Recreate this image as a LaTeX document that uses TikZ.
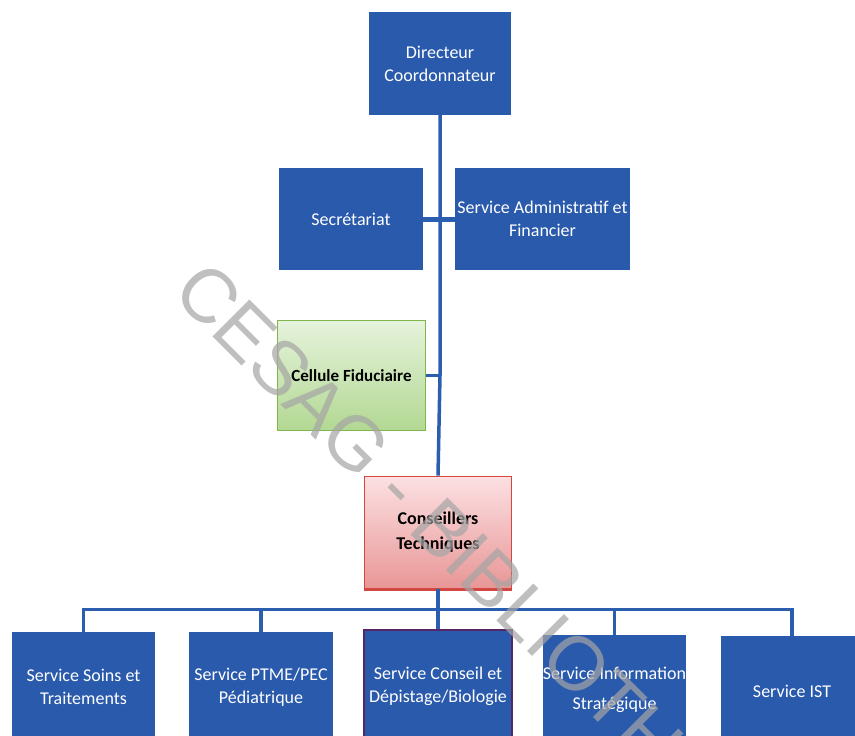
\documentclass[tikz,border=0pt]{standalone}
\usepackage{fontspec}
\setmainfont{Carlito}
\newfontfamily\wmfont{Liberation Sans}
\definecolor{orgblue}{RGB}{42,90,172}
\definecolor{linkblue}{RGB}{44,94,176}
\definecolor{fidborder}{RGB}{128,180,76}
\definecolor{fidtop}{RGB}{230,243,220}
\definecolor{fidbot}{RGB}{178,216,146}
\definecolor{ctborder}{RGB}{210,72,64}
\definecolor{cttop}{RGB}{252,224,226}
\definecolor{ctbot}{RGB}{232,150,150}
\definecolor{cdpborder}{RGB}{84,38,100}
\definecolor{wmgray}{RGB}{165,165,165}
\begin{document}
\begin{tikzpicture}[x=1pt,y=-1pt,
  unit/.style={rectangle, fill=orgblue, text=white, align=center, inner sep=0pt,
    font=\fontsize{18}{23}\selectfont},
  fidbox/.style={rectangle, draw=fidborder, line width=1.6pt, top color=fidtop,
    bottom color=fidbot, align=center, inner sep=0pt,
    font=\bfseries\fontsize{17}{22}\selectfont},
  ctbox/.style={rectangle, draw=ctborder, line width=1.6pt, top color=cttop,
    bottom color=ctbot, align=center, inner sep=0pt,
    font=\bfseries\fontsize{18}{25}\selectfont},
  link/.style={draw=linkblue, line width=3.5pt},
]
\useasboundingbox (0,0) rectangle (855,736);
\fill[white] (0,0) rectangle (855,736);
\begin{scope}
\clip (0,0) rectangle (855,736);

% top of the hierarchy
\node[unit, minimum width=142pt, minimum height=103pt] (dir) at (440,63.5) {Directeur\\Coordonnateur};
\node[unit, minimum width=144pt, minimum height=102pt] (sec) at (351,219) {Secrétariat};
\node[unit, minimum width=175pt, minimum height=102pt] (adm) at (542.5,219) {Service Administratif et\\Financier};
\node[fidbox, minimum width=148pt, minimum height=110pt] (fid) at (351.5,375.5) {Cellule Fiduciaire};
\node[ctbox, minimum width=147pt, minimum height=112pt] (ct) at (438,532.5) {Conseillers\\Techniques};
\draw[ctborder, line width=3pt] (ct.south west) -- (ct.south east);

% services
\node[unit, minimum width=143pt, minimum height=110pt] (soins) at (83.5,687) {Service Soins et\\Traitements};
\node[unit, minimum width=144pt, minimum height=110pt] (ptme) at (261,687) {Service PTME/PEC\\Pédiatrique};
\node[unit, draw=cdpborder, line width=1.6pt, minimum width=148pt, minimum height=112pt] (cdp) at (438,686) {Service Conseil et\\Dépistage/Biologie};
\node[unit, minimum width=143pt, minimum height=110pt, font=\fontsize{18}{30}\selectfont] (info) at (614.5,690) {Service Information\\Stratégique};
\node[unit, minimum width=142pt, minimum height=110pt] (ist) at (792,691) {Service IST};

% connectors
\draw[link] (dir.south) -- (dir.south |- fid.east) -- (ct.north);
\draw[link, line width=5pt] (sec.east) -- (adm.west);
\draw[link] (fid.east) -- (fid.east -| dir.south);
\foreach \s in {soins,ptme,cdp,info,ist}
  \draw[link] (ct.south) -- ++(0,20) -| (\s.north);

% library stamp across the page
\node[rotate=-45, anchor=base west, inner sep=0pt, text=wmgray, text opacity=0.7,
  font=\wmfont\fontsize{76}{76}\selectfont] (stamp) at (170,294) {CESAG - BIBLIOTHEQUE};
\end{scope}
\end{tikzpicture}
\end{document}
